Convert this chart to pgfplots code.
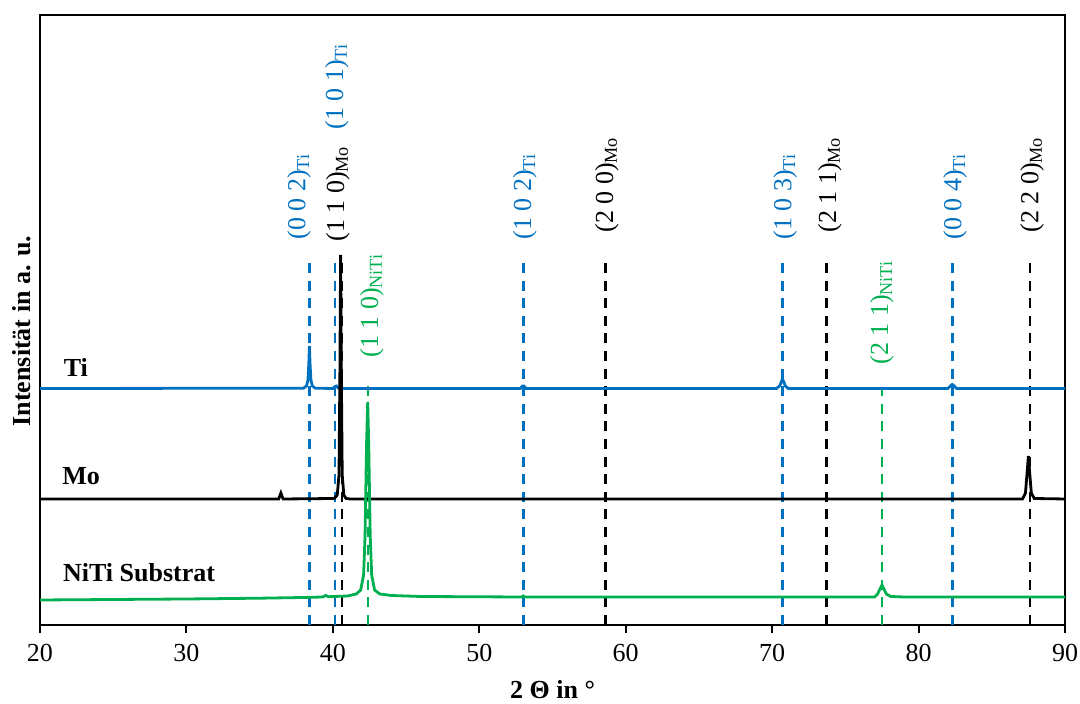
\documentclass[border=0pt]{standalone}
\usepackage{fontspec}
\setmainfont{Liberation Serif}
\usepackage{pgfplots}
\pgfplotsset{compat=1.18}
\definecolor{tiblue}{RGB}{0,112,192}
\definecolor{nitigreen}{RGB}{0,176,80}
\tikzset{
 dashl/.style={line width=1.3pt, dash pattern=on 5pt off 3.8pt},
 lbl/.style={rotate=90, anchor=west, inner sep=0pt, font=\fontsize{13}{15}\selectfont},
}
\begin{document}
\begin{tikzpicture}
\path[use as bounding box] (-20pt,-39.5pt) rectangle (520pt,312.5pt);
\begin{axis}[
 scale only axis, width=512.5pt, height=305pt,
 xmin=20, xmax=90, ymin=0, ymax=610,
 xtick={20,30,...,90}, ytick=\empty,
 tick align=outside, xtick pos=bottom, major tick length=4pt,
 axis line style={line width=1pt, black},
 every tick/.style={black, line width=1pt},
 ticklabel style={font=\fontsize{13}{15}\selectfont},
 xticklabel style={yshift=-2pt},
 /pgf/number format/assume math mode=true,
 xlabel={\textbf{2 Θ in °}},
 ylabel={\textbf{Intensität in a. u.}},
 label style={font=\fontsize{13}{15}\selectfont},
 xlabel style={at={(axis description cs:0.5,0)}, anchor=center, yshift=-32.5pt},
 ylabel style={at={(axis description cs:-0.0176,0.482)}, anchor=center},
 clip=true,
]
% reference lines
\addplot[tiblue, dashl] coordinates {(38.4,0)(38.4,367)};
\addplot[tiblue, dashl] coordinates {(40.15,0)(40.15,367)};
\addplot[black, dashl] coordinates {(40.62,0)(40.62,367)};
\addplot[nitigreen, dashl] coordinates {(42.4,0)(42.4,242)};
\addplot[tiblue, dashl] coordinates {(53.0,0)(53.0,367)};
\addplot[black, dashl] coordinates {(58.6,0)(58.6,367)};
\addplot[tiblue, dashl] coordinates {(70.7,0)(70.7,367)};
\addplot[black, dashl] coordinates {(73.7,0)(73.7,367)};
\addplot[nitigreen, dashl] coordinates {(77.5,0)(77.5,235)};
\addplot[tiblue, dashl] coordinates {(82.3,0)(82.3,367)};
\addplot[black, dashl] coordinates {(87.6,0)(87.6,367)};
% Ti
\addplot[tiblue, line width=1.4pt] coordinates {
(20,236.5)(38.0,236.8)(38.2,239)(38.3,245)(38.36,262)(38.4,279)(38.44,262)(38.5,245)(38.6,239)(38.8,236.8)
(40.0,236.5)(40.15,238.5)(40.25,239)(40.35,237)(40.6,236.5)
(52.8,236.5)(52.95,239)(53.05,239)(53.2,236.5)
(70.3,236.5)(70.5,239)(70.6,242)(70.7,246)(70.8,243)(70.9,239)(71.1,236.5)
(82.0,236.5)(82.2,239.5)(82.3,240.5)(82.4,239.5)(82.6,236.5)(90,236.5)};
% Mo
\addplot[black, line width=1.4pt] coordinates {
(20,126)(36.3,126)(36.4,130)(36.45,132)(36.5,130)(36.6,126)
(40.1,126.5)(40.3,130)(40.42,150)(40.48,250)(40.53,370)(40.58,250)(40.64,150)(40.75,130)(40.9,126.5)(41.2,126)
(87.1,126)(87.3,132)(87.4,150)(87.5,169)(87.6,150)(87.7,132)(87.9,126.5)(90,126)};
% NiTi
\addplot[nitigreen, line width=1.4pt] coordinates {
(20,25)(25,25.5)(30,26)(35,26.8)(38,27.5)(39.3,28)(39.5,29.5)(39.7,28.3)(41,29)(41.6,31)(41.9,35)(42.1,50)(42.2,90)(42.3,180)(42.38,223)(42.45,180)(42.55,90)(42.65,50)(42.85,35)(43.2,31)(44,29.5)(46,28.5)
(52.9,28)(53.0,29)(53.1,28)(60,28)(77.0,28)(77.2,31)(77.4,37)(77.5,40)(77.6,37)(77.8,31)(78.1,28.5)(79,28)(90,28)};
% peak labels
\node[lbl, text=tiblue] at (axis cs:37.7,385) {(0 0 2)\textsubscript{Ti}};
\node[lbl, text=black] at (axis cs:40.35,383) {(1 1 0)\textsubscript{Mo}};
\node[lbl, text=tiblue] at (axis cs:40.28,495) {(1 0 1)\textsubscript{Ti}};
\node[lbl, text=nitigreen] at (axis cs:42.67,267) {(1 1 0)\textsubscript{NiTi}};
\node[lbl, text=tiblue] at (axis cs:53.12,385) {(1 0 2)\textsubscript{Ti}};
\node[lbl, text=black] at (axis cs:58.72,392) {(2 0 0)\textsubscript{Mo}};
\node[lbl, text=tiblue] at (axis cs:70.88,385) {(1 0 3)\textsubscript{Ti}};
\node[lbl, text=black] at (axis cs:73.95,392) {(2 1 1)\textsubscript{Mo}};
\node[lbl, text=nitigreen] at (axis cs:77.5,260) {(2 1 1)\textsubscript{NiTi}};
\node[lbl, text=tiblue] at (axis cs:82.49,385) {(0 0 4)\textsubscript{Ti}};
\node[lbl, text=black] at (axis cs:87.75,392) {(2 2 0)\textsubscript{Mo}};
% series labels
\node[anchor=base west, inner sep=0pt, font=\bfseries\fontsize{13}{15}\selectfont] at (axis cs:21.6,248) {Ti};
\node[anchor=base west, inner sep=0pt, font=\bfseries\fontsize{13}{15}\selectfont] at (axis cs:21.5,140) {Mo};
\node[anchor=base west, inner sep=0pt, font=\bfseries\fontsize{13}{15}\selectfont] at (axis cs:21.55,43) {NiTi Substrat};
\end{axis}
\end{tikzpicture}
\end{document}
